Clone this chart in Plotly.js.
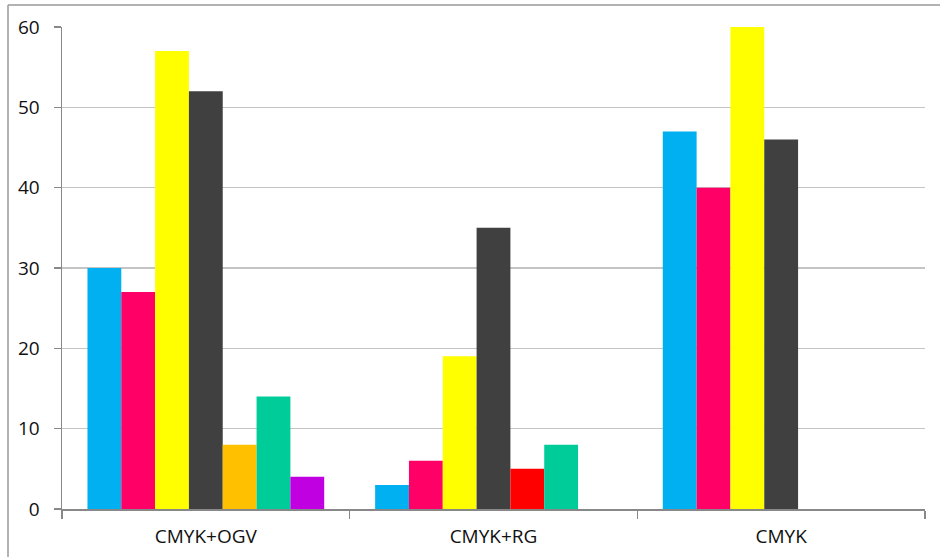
<!DOCTYPE html>
<html>
<head>
<meta charset="utf-8">
<script src="https://cdn.plot.ly/plotly-3.0.1.min.js"></script>
<style>html,body{margin:0;padding:0;background:#fff;}#chart{width:940px;height:557px;}</style>
</head>
<body>
<div id="chart"></div>
<script>
const categories = ["CMYK+OGV", "CMYK+RG", "CMYK"];
const cyan    = [30, 3, 47];
const magenta = [27, 6, 40];
const yellow  = [57, 19, 60];
const black   = [52, 35, 46];
const orangeRed = [8, 5, null];
const green   = [14, 8, null];
const violet  = [4, null, null];
const yTicks = [0, 10, 20, 30, 40, 50, 60];

const series = [
  {name: "C", y: cyan, color: "#00B0F0"},
  {name: "M", y: magenta, color: "#FF0066"},
  {name: "Y", y: yellow, color: "#FFFF00"},
  {name: "K", y: black, color: "#404040"},
  {name: "O/R", y: orangeRed, color: ["#FFC000", "#FF0000", "#FFC000"]},
  {name: "G", y: green, color: "#00CC99"},
  {name: "V", y: violet, color: "#C000E0"}
];

const data = series.map(s => ({
  type: "bar",
  name: s.name,
  x: categories,
  y: s.y,
  marker: {color: s.color, line: {width: 0}},
  hoverinfo: "y"
}));

const L = 62, R = 925, T = 27, B = 509, W = 940, H = 557;
const px = v => (v - L) / (R - L);
const py = v => (B - v) / (B - T);

const layout = {
  width: W, height: H,
  margin: {l: L, r: W - R, t: T, b: H - B, pad: 0},
  paper_bgcolor: "#ffffff",
  plot_bgcolor: "#ffffff",
  showlegend: false,
  barmode: "group",
  bargap: 0.177,
  bargroupgap: 0,
  font: {family: "Open Sans, Liberation Sans, sans-serif", size: 19, color: "#111111"},
  xaxis: {
    type: "category",
    tickson: "boundaries",
    ticks: "outside",
    ticklen: 8,
    tickcolor: "#888888",
    tickwidth: 1.5,
    showline: true,
    linecolor: "#888888",
    linewidth: 1.5,
    showgrid: false,
    ticklabelstandoff: 10,
    tickfont: {size: 19}
  },
  yaxis: {
    range: [0, 60],
    tickvals: yTicks,
    ticktext: yTicks.map(String),
    ticks: "outside",
    ticklen: 7,
    tickcolor: "#888888",
    tickwidth: 1.5,
    showline: true,
    linecolor: "#888888",
    linewidth: 1.5,
    showgrid: true,
    gridcolor: "#C4C4C4",
    gridwidth: 1.5,
    zeroline: false,
    ticklabelstandoff: 10,
    tickfont: {size: 19}
  },
  shapes: [
    {type: "line", xref: "paper", yref: "paper", x0: px(8), x1: px(W + 5), y0: py(5), y1: py(5),
     line: {color: "#999999", width: 1.5}},
    {type: "line", xref: "paper", yref: "paper", x0: px(8), x1: px(8), y0: py(5), y1: py(H + 5),
     line: {color: "#999999", width: 1.5}}
  ]
};

Plotly.newPlot("chart", data, layout, {displayModeBar: false, staticPlot: true});
</script>
</body>
</html>
